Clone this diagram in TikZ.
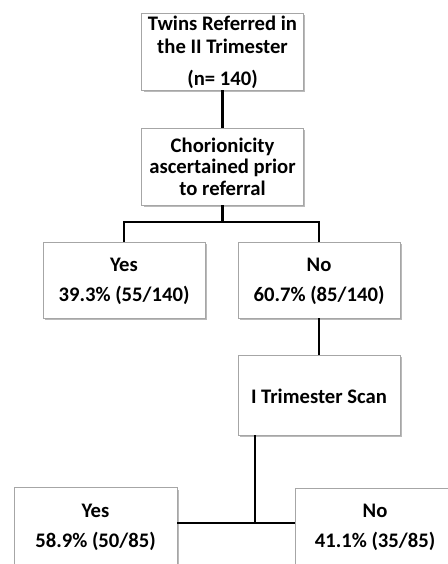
\documentclass[tikz,border=0pt]{standalone}
\usepackage{fontspec}
\setmainfont{Carlito}
\usetikzlibrary{shadows}
\tikzset{
  box/.style={draw=black!35, line width=0.7pt, fill=white, rectangle, inner sep=0pt,
    drop shadow={opacity=0.45, shadow xshift=1.3pt, shadow yshift=-1.6pt, fill=black!60},
    align=center},
  txt/.style={inner sep=0pt, align=center, font=\bfseries\fontsize{15.5}{17.3}\selectfont},
  conn/.style={line width=2.2pt, black}
}
\begin{document}
\begin{tikzpicture}[x=0.75pt,y=-0.75pt]
\clip (0,0) rectangle (448,564);
\fill[white] (0,0) rectangle (448,564);
% boxes
\node[box, minimum width=121pt, minimum height=57.75pt] (b1) at (222.5,51.5) {};
\node[txt] (t1) at (222.5,52.5) {Twins Referred in\\the II Trimester\\[6.5pt](n= 140)};
\node[box, minimum width=121pt, minimum height=57.75pt] (b2) at (222.5,166.5) {};
\node[txt, font=\bfseries\fontsize{15.5}{16.2}\selectfont] (t2) at (222.5,166.5) {Chorionicity\\ascertained prior\\to referral};
\node[box, minimum width=121.5pt, minimum height=57pt] (b3) at (124,280) {};
\node[txt] (t3) at (124,281) {Yes\\[5pt]39.3\% (55/140)};
\node[box, minimum width=121.5pt, minimum height=57pt] (b4) at (319,280) {};
\node[txt] (t4) at (319,281) {No\\[5pt]60.7\% (85/140)};
\node[box, minimum width=121.5pt, minimum height=60pt] (b5) at (319,395) {};
\node[txt] (t5) at (319,396) {I Trimester Scan};
\node[box, minimum width=122.25pt, minimum height=90pt, anchor=north] (b6) at (95.5,487) {};
\node[txt] (t6) at (95.5,527) {Yes\\[5pt]58.9\% (50/85)};
\node[box, minimum width=120pt, minimum height=90pt, anchor=north] (b7) at (375,488) {};
\node[txt] (t7) at (375,527) {No\\[5pt]41.1\% (35/85)};
% junctions
\coordinate (j1) at (222.5,222);
\coordinate (j2) at (255,523);
% connectors
\draw[conn] (b1.south) -- (b2.north);
\draw[conn] (b2.south) -- (j1);
\draw[conn] (b3.north) |- (j1) -| (b4.north);
\draw[conn] (b4.south) -- (b5.north);
\draw[conn] (b5.south -| j2) -- (j2);
\draw[conn] (b6.east |- j2) -- (b7.west |- j2);
\end{tikzpicture}
\end{document}
